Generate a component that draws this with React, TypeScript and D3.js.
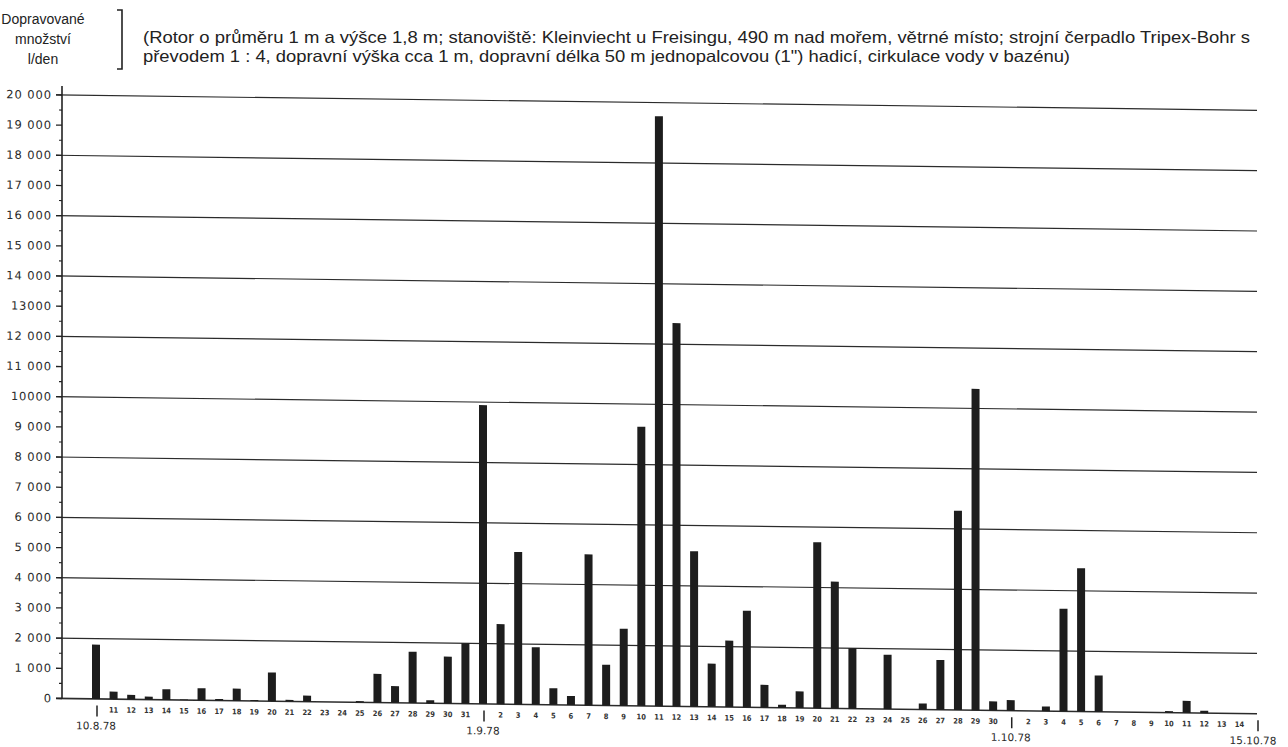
import React from "react";
import * as d3 from "d3";

// Daily pumped water volume (litres/day), 10.8.1978 – 15.10.1978
const augDays = [10, 11, 12, 13, 14, 15, 16, 17, 18, 19, 20, 21, 22, 23, 24, 25, 26, 27, 28, 29, 30, 31];
const augValues = [1800, 250, 150, 100, 350, 20, 400, 50, 400, 30, 950, 50, 200, 0, 0, 40, 950, 550, 1700, 100, 1550, 2000];

const sepDays = [1, 2, 3, 4, 5, 6, 7, 8, 9, 10, 11, 12, 13, 14, 15, 16, 17, 18, 19, 20, 21, 22, 23, 24, 25, 26, 27, 28, 29, 30];
const sepValues = [9900, 2650, 5050, 1900, 550, 300, 5000, 1350, 2550, 9250, 19550, 12700, 5150, 1430, 2200, 3200, 750, 100, 550, 5500, 4200, 2000, 0, 1800, 0, 200, 1650, 6600, 10650, 300];

const octDays = [1, 2, 3, 4, 5, 6, 7, 8, 9, 10, 11, 12, 13, 14, 15];
const octValues = [350, 0, 150, 3400, 4750, 1200, 0, 0, 0, 50, 400, 80, 0, 0, 0];

const markerDates = ["10.8", "1.9", "1.10", "15.10"];
const markerLabels = ["10.8.78", "1.9.78", "1.10.78", "15.10.78"];

const yTickValues = [0, 1000, 2000, 3000, 4000, 5000, 6000, 7000, 8000, 9000, 10000, 11000, 12000, 13000, 14000, 15000, 16000, 17000, 18000, 19000, 20000];
const yTickLabels = ["0", "1 000", "2 000", "3 000", "4 000", "5 000", "6 000", "7 000", "8 000", "9 000", "10000", "11 000", "12 000", "13000", "14 000", "15 000", "16 000", "17 000", "18 000", "19 000", "20 000"];
const gridValues = [0, 2000, 4000, 6000, 8000, 10000, 12000, 14000, 16000, 18000, 20000];

const axisTitle = ["Dopravované", "množství", "l/den"];
const titleLines = [
  "(Rotor o průměru 1 m a výšce 1,8 m; stanoviště: Kleinviecht u Freisingu, 490 m nad mořem, větrné místo; strojní čerpadlo Tripex-Bohr s",
  "převodem 1 : 4, dopravní výška cca 1 m, dopravní délka 50 m jednopalcovou (1\") hadicí, cirkulace vody v bazénu)",
];

type Day = { key: string; day: number; value: number };
const days: Day[] = [
  ...augDays.map((d, i) => ({ key: `${d}.8`, day: d, value: augValues[i] })),
  ...sepDays.map((d, i) => ({ key: `${d}.9`, day: d, value: sepValues[i] })),
  ...octDays.map((d, i) => ({ key: `${d}.10`, day: d, value: octValues[i] })),
];

export default function App() {
  const W = 1288;
  const H = 747;
  const axisX = 62;
  const k = 0.0128;

  const x = d3.scalePoint<string>().domain(days.map((d) => d.key)).range([96, 1257]).padding(0);
  const y = d3.scaleLinear().domain([0, 20000]).range([698.5, 95]);
  const minor = d3.range(500, 20000, 1000);
  const barW = 8;
  const ink = "#1d1d1d";

  return (
    <svg width={W} height={H} style={{ position: "absolute", left: 0, top: 0, background: "#fff" }}>
      <rect width={W} height={H} fill="#fff" />
      {/* axis title */}
      <g fontFamily="'Liberation Sans', Arial, sans-serif" fontSize={14} fill="#222" textAnchor="middle">
        {axisTitle.map((t, i) => (
          <text key={t} x={43} y={24 + i * 20}>{t}</text>
        ))}
      </g>
      <path d="M117,10 H122 V69 H117" fill="none" stroke="#222" strokeWidth={1.6} />
      <g fontFamily="'Liberation Sans', Arial, sans-serif" fontSize={16.5} fill="#222">
        <text x={143} y={43} textLength={1107} lengthAdjust="spacingAndGlyphs">{titleLines[0]}</text>
        <text x={143} y={62} textLength={927} lengthAdjust="spacingAndGlyphs">{titleLines[1]}</text>
      </g>

      <g transform={`matrix(1, ${k}, 0, 1, 0, ${-k * axisX})`}>
        {/* gridlines */}
        {gridValues.map((v) => (
          <line key={v} x1={axisX - 6} x2={1257} y1={y(v)} y2={y(v)} stroke="#2b2b2b" strokeWidth={v === 0 ? 1.6 : 1.2} />
        ))}
        {/* y axis */}
        <line x1={axisX} x2={axisX} y1={86} y2={y(0)} stroke="#222" strokeWidth={1.6} />
        {yTickValues.map((v, i) => (
          <g key={v}>
            <line x1={axisX - 6} x2={axisX} y1={y(v)} y2={y(v)} stroke="#222" strokeWidth={1.3} />
            <text x={52} y={y(v) + 4} textAnchor="end" fontFamily="'DejaVu Sans', sans-serif" fontSize={11.5} letterSpacing={0.9} fill="#2a2a2a">
              {yTickLabels[i]}
            </text>
          </g>
        ))}
        {minor.map((v) => (
          <line key={v} x1={axisX - 3} x2={axisX} y1={y(v)} y2={y(v)} stroke="#222" strokeWidth={1.1} />
        ))}
        {/* bars */}
        {days.map((d) => (
          <rect key={d.key} x={(x(d.key) as number) - barW / 2} y={y(d.value)} width={barW} height={y(0) - y(d.value)} fill={ink} />
        ))}
        {/* x labels */}
        {days.map((d) => {
          const xi = x(d.key) as number;
          const mi = markerDates.indexOf(d.key);
          if (mi >= 0) {
            return (
              <g key={d.key}>
                <line x1={xi + 1} x2={xi + 1} y1={705} y2={716} stroke="#222" strokeWidth={1.5} />
                <text x={mi === 3 ? xi - 4 : xi} y={729} textAnchor="middle" fontFamily="'DejaVu Sans', sans-serif" fontSize={10.5} fill="#2a2a2a">
                  {markerLabels[mi]}
                </text>
              </g>
            );
          }
          return (
            <text key={d.key} x={xi} y={712} textAnchor="middle" fontFamily="'DejaVu Sans Condensed', 'DejaVu Sans', sans-serif" fontWeight="bold" fontSize={7.5} fill="#333">
              {d.day}
            </text>
          );
        })}
      </g>
    </svg>
  );
}
